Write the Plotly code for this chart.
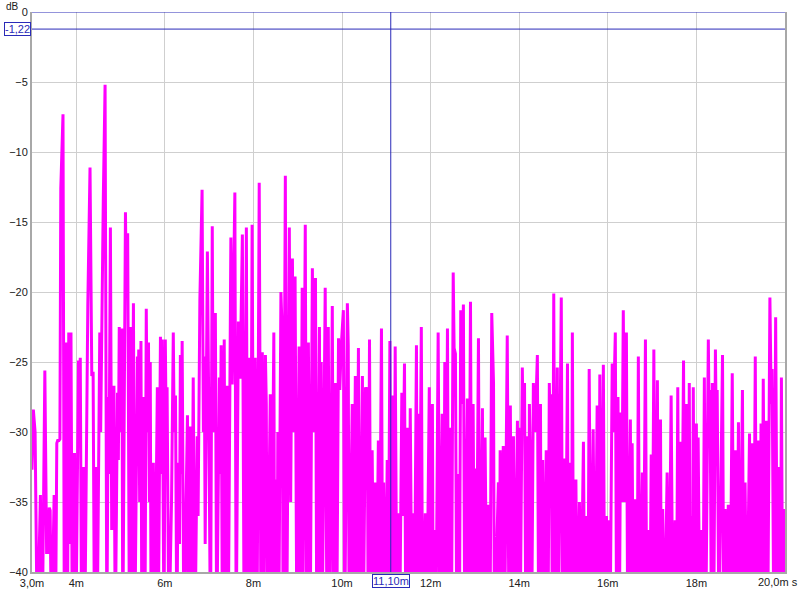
import plotly.graph_objects as go

# ---- data: impulse magnitude (dB) vs time (ms); vertices ----
t_a = [3.00, 3.03, 3.07, 3.12, 3.19, 3.23, 3.29, 3.33, 3.37, 3.39, 3.41, 3.44, 3.50, 3.53,
       3.56, 3.58, 3.61, 3.63, 3.65, 3.70, 3.73, 3.77, 3.80, 3.83, 3.85, 3.88, 3.91, 3.96, 3.99,
       4.05, 4.07, 4.09, 4.12, 4.16, 4.19, 4.26, 4.31, 4.35, 4.38, 4.41, 4.45, 4.47,
       4.53, 4.55, 4.61, 4.65, 4.69, 4.72, 4.74, 4.77, 4.80, 4.85, 4.88,
       4.93, 4.95, 4.97, 4.99, 5.03, 5.05, 5.11, 5.13, 5.16, 5.20]
db_a = [-32.7, -28.4, -30.0, -45, -34.5, -45, -25.6, -38.6, -38.6, -35.4, -35.6, -45, -34.5, -45,
        -30.8, -30.6, -30.6, -30.5, -12.6, -7.3, -45, -23.6, -45, -22.9, -38, -22.9, -45, -31.5, -45,
        -24.9, -27, -24.7, -45, -32.5, -45, -20.9, -11.1, -26, -25.7, -45, -32.5, -45,
        -22.9, -30, -13.3, -5.2, -45, -27.5, -33, -15.4, -37, -26.7, -45,
        -27.2, -32, -22.5, -30, -22.6, -45, -14.3, -20, -15.8, -45]

t_b = [5.22, 5.24, 5.29, 5.32, 5.38, 5.39, 5.41, 5.43, 5.46, 5.48, 5.51, 5.55, 5.58, 5.60, 5.63,
       5.65, 5.67, 5.69, 5.74, 5.77, 5.83, 5.85, 5.90, 5.92, 5.94, 5.98, 6.01, 6.03, 6.05, 6.09,
       6.15, 6.19, 6.21, 6.24, 6.27, 6.30, 6.33, 6.35, 6.37, 6.39, 6.43, 6.51, 6.53, 6.57, 6.60,
       6.64, 6.68, 6.73, 6.75, 6.79, 6.84, 6.87, 6.89, 6.91, 6.96, 6.99, 7.03, 7.07, 7.09, 7.14,
       7.17, 7.23, 7.25, 7.27, 7.30, 7.34, 7.36]
db_b = [-22.5, -45, -20.8, -45, -24.6, -30, -24.1, -35, -23.5, -45, -27.5, -45, -21.2, -30, -23.6,
        -35, -25, -45, -32.2, -45, -26.8, -45, -23.2, -33, -23.4, -45, -23.4, -30, -26.8, -45,
        -35, -22.9, -30, -27.4, -45, -32.2, -38, -24.5, -33, -23.5, -45, -28.8, -45, -29.6, -45,
        -26.1, -45, -30.3, -36, -20.6, -12.7, -30, -24.6, -38, -17.1, -28, -45, -15.3, -30, -21.5,
        -45, -26.1, -33, -23.8, -45, -23.4, -40]

t_c = [7.41, 7.43, 7.49, 7.52, 7.58, 7.61, 7.66, 7.70, 7.75, 7.79, 7.84, 7.87, 7.91, 7.93, 7.97,
       8.01, 8.04, 8.08, 8.13, 8.17, 8.20, 8.22, 8.27, 8.29, 8.31, 8.38, 8.40, 8.46, 8.48, 8.50,
       8.53, 8.55, 8.57, 8.62, 8.65, 8.67, 8.72, 8.75, 8.78, 8.81, 8.84, 8.88, 8.90, 8.94, 8.98,
       9.03, 9.06, 9.10, 9.12, 9.17, 9.20, 9.24, 9.26, 9.28, 9.33, 9.36, 9.40, 9.43, 9.49, 9.51,
       9.53, 9.55, 9.62, 9.66, 9.69, 9.72]
db_c = [-26.7, -45, -16.1, -26.6, -12.9, -45, -22.1, -26.2, -15.9, -45, -15.4, -45, -24.7, -45, -15.2,
        -45, -24.7, -45, -12.2, -45, -24.3, -45, -24.5, -28, -45, -27.3, -45, -22.9, -45, -33.4,
        -45, -30, -45, -20, -23, -45, -11.7, -45, -30, -15.4, -35, -17.6, -30, -18.9, -45,
        -23.9, -45, -19.7, -40, -15.2, -45, -23.6, -33, -45, -18.3, -30, -19, -45, -22.5, -45,
        -25, -45, -19.7, -45, -22.5, -45]

t_d = [9.78, 9.81, 9.85, 9.88, 9.92, 9.95, 9.98, 10.03, 10.06, 10.12, 10.14, 10.16, 10.23, 10.25,
       10.30, 10.33, 10.37, 10.39, 10.46, 10.48, 10.53, 10.55, 10.57, 10.59, 10.62, 10.65, 10.68,
       10.72, 10.75, 10.77, 10.82, 10.84, 10.89, 10.92, 10.94, 10.98, 11.02, 11.04, 11.08, 11.11,
       11.13, 11.17, 11.20, 11.24, 11.27, 11.30, 11.35, 11.37, 11.41, 11.44, 11.47, 11.51, 11.54,
       11.58, 11.61, 11.63, 11.68, 11.70, 11.72, 11.74, 11.79, 11.82, 11.88, 11.91, 11.97, 11.99,
       12.04, 12.06, 12.08, 12.12, 12.17, 12.21, 12.26, 12.29, 12.32, 12.34, 12.38, 12.41, 12.44,
       12.47, 12.51, 12.53, 12.56, 12.59, 12.62, 12.65, 12.68, 12.70, 12.74, 12.77, 12.83, 12.86,
       12.90, 12.93, 12.96, 12.99, 13.01, 13.03, 13.08, 13.11, 13.17, 13.19, 13.23, 13.27, 13.30,
       13.34, 13.38, 13.42, 13.44, 13.53, 13.55, 13.57, 13.61, 13.64, 13.67, 13.73, 13.77, 13.80,
       13.83, 13.87, 13.90, 13.96, 13.97, 13.99, 14.02, 14.07, 14.09, 14.12, 14.15, 14.18, 14.21,
       14.23]
db_d = [-21, -45, -26.5, -45, -23.3, -27, -24, -21.3, -45, -20.8, -23.8, -45, -28, -45,
        -26, -45, -24, -45, -26, -45, -26.8, -28, -26.8, -45, -23.4, -45, -31.3,
        -45, -33.6, -45, -30.6, -45, -22.6, -45, -33.6, -45, -32, -45, -23.5, -45,
        -27.4, -45, -23.9, -45, -35.8, -45, -27.2, -36, -25.1, -45, -29.7, -45, -28.3,
        -45, -35.8, -45, -23.8, -45, -28.7, -45, -22.5, -45, -35.8, -45, -26.8, -45,
        -28, -45, -37, -45, -22.9, -45, -28.7, -45, -25, -45, -22.6, -45, -29.7,
        -45, -18.6, -24, -24.4, -45, -33, -45, -21.3, -28, -20.9, -45, -27.6, -45,
        -20.7, -45, -28, -45, -32.6, -45, -23.3, -45, -28.3, -45, -30.4, -45, -35.2,
        -45, -21.5, -26.5, -45, -33.6, -45, -31.3, -45, -31, -45, -23.1, -45, -28.1,
        -45, -30.3, -45, -29.2, -45, -29.7, -45, -25.4, -30, -26.5, -45, -30.3, -45,
        -28]

t_e = [14.25, 14.28, 14.32, 14.36, 14.41, 14.44, 14.48, 14.50, 14.53, 14.57, 14.61, 14.65, 14.68,
       14.70, 14.72, 14.75, 14.78, 14.81, 14.86, 14.88, 14.95, 14.98, 15.02, 15.04, 15.09, 15.11,
       15.14, 15.18, 15.20, 15.23, 15.28, 15.31, 15.36, 15.39, 15.45, 15.48, 15.51, 15.55, 15.58,
       15.62, 15.67, 15.71, 15.76, 15.79, 15.82, 15.85, 15.90, 15.93, 15.97, 15.99, 16.01, 16.05,
       16.10, 16.12, 16.17, 16.20, 16.23, 16.26, 16.29, 16.32, 16.35, 16.38, 16.42, 16.45, 16.51,
       16.53, 16.55, 16.58, 16.62, 16.66, 16.69, 16.72, 16.78, 16.80, 16.85, 16.88, 16.91, 16.95,
       16.98, 17.00, 17.04, 17.07, 17.12, 17.14, 17.16]
db_e = [-32, -45, -26.5, -30, -24.5, -45, -28, -45, -32, -45, -31.3, -45, -26.5,
        -30, -27.3, -45, -20.1, -45, -25.4, -45, -20.4, -45, -31.9, -45, -25.1, -45,
        -32.2, -45, -22.9, -45, -33.4, -45, -35, -45, -30.7, -45, -36, -45, -25.5,
        -45, -29.8, -45, -28.1, -45, -25.9, -45, -25.2, -45, -36, -45, -36.3, -45,
        -25.1, -30, -22.9, -45, -27.5, -45, -28.6, -35, -21.3, -35, -22.9, -45, -29.1,
        -45, -30.8, -45, -34.8, -45, -24.6, -45, -32.9, -45, -23.4, -45, -37, -45,
        -31.6, -45, -24.1, -45, -26.3, -45, -35]

t_f = [17.19, 17.21, 17.24, 17.28, 17.34, 17.38, 17.43, 17.47, 17.52, 17.55, 17.58, 17.61, 17.64,
       17.66, 17.71, 17.74, 17.77, 17.81, 17.84, 17.86, 17.89, 17.91, 17.93, 17.96, 18.00, 18.02,
       18.04, 18.08, 18.11, 18.15, 18.18, 18.21, 18.27, 18.29, 18.31, 18.34, 18.36, 18.39, 18.43,
       18.45, 18.47, 18.51, 18.59, 18.62, 18.65, 18.69, 18.72, 18.76, 18.81, 18.85, 18.88, 18.91,
       18.95, 18.98, 19.04, 19.07, 19.10, 19.14, 19.20, 19.22, 19.25, 19.29, 19.33, 19.36, 19.40,
       19.42, 19.46, 19.48, 19.51, 19.55, 19.58, 19.61, 19.66, 19.69, 19.71, 19.75, 19.79, 19.83,
       19.87, 19.90, 19.92, 19.95, 19.99]
db_f = [-29.1, -45, -35.5, -45, -32.9, -45, -27.4, -45, -36.3, -45, -26.8, -45, -30.7,
        -45, -24.9, -45, -28, -45, -26.5, -45, -36, -45, -26.8, -45, -29.4, -45,
        -30.4, -45, -37, -45, -26.1, -45, -23.4, -30, -27, -45, -26.5, -45, -24.1,
        -30, -27, -45, -24.5, -45, -35.5, -45, -35.2, -45, -25.8, -45, -31.3, -45,
        -29.3, -45, -27, -45, -33.6, -45, -30.1, -45, -30.8, -45, -24.6, -45, -30.6,
        -45, -29.4, -45, -26.2, -45, -29.2, -45, -20.4, -28, -25.5, -45, -21.8, -45,
        -32.5, -45, -26.1, -45, -35.5]

x_tick_vals = [3, 4, 6, 8, 10, 12, 14, 16, 18]
x_tick_text = ["3,0m", "4m", "6m", "8m", "10m", "12m", "14m", "16m", "18m"]
x_end_label = "20,0m s"
y_tick_vals = [0, -5, -10, -15, -20, -25, -30, -35, -40]
cursor_t = 11.10
cursor_db = -1.22

t_ms = t_a + t_b + t_c + t_d + t_e + t_f
level_db = db_a + db_b + db_c + db_d + db_e + db_f

FONT = "Liberation Sans"
BLUE = "#2a2ab8"

fig = go.Figure()
fig.add_trace(go.Scatter(x=t_ms, y=level_db, mode="lines",
                         line=dict(color="#ff00ff", width=3), hoverinfo="skip"))

fig.update_layout(
    width=800, height=589,
    margin=dict(l=32, r=15, t=12, b=17, autoexpand=False),
    paper_bgcolor="white", plot_bgcolor="white",
    showlegend=False,
    font=dict(family=FONT, size=11, color="#202020"),
)
fig.update_xaxes(range=[3, 20.001], tickvals=x_tick_vals, ticktext=x_tick_text,
                 showgrid=True, gridcolor="#cfcfcf", gridwidth=1,
                 showline=True, linecolor="#a8a8a8", linewidth=2, automargin=False,
                 ticks="", zeroline=False, tickfont=dict(size=11))
fig.update_yaxes(range=[-40, 0], tickvals=y_tick_vals,
                 showgrid=True, gridcolor="#cfcfcf", gridwidth=1,
                 showline=True, linecolor="#a8a8a8", linewidth=2, mirror=True, automargin=False,
                 ticks="", zeroline=False, tickfont=dict(size=11))

# top line (0 dB) and cursor cross-hair
fig.add_shape(type="line", xref="paper", x0=0, x1=1, yref="y", y0=0, y1=0,
              line=dict(color=BLUE, width=1))
fig.add_shape(type="line", xref="paper", x0=0, x1=1, yref="y", y0=cursor_db, y1=cursor_db,
              line=dict(color=BLUE, width=1))
fig.add_shape(type="line", xref="x", x0=cursor_t, x1=cursor_t, yref="paper", y0=0, y1=1,
              line=dict(color=BLUE, width=1))

fig.add_annotation(xref="paper", x=0, xanchor="right", xshift=-1, yref="y", y=cursor_db,
                   text="-1,22", showarrow=False, font=dict(color=BLUE, size=11, family=FONT),
                   bgcolor="white", bordercolor=BLUE, borderwidth=1, borderpad=0)
fig.add_annotation(xref="x", x=cursor_t, yref="paper", y=0, yanchor="top", yshift=-2,
                   text="11,10m", showarrow=False, font=dict(color=BLUE, size=11, family=FONT),
                   bgcolor="white", bordercolor=BLUE, borderwidth=1, borderpad=0)
fig.add_annotation(xref="paper", x=1, xanchor="right", xshift=15, yref="paper", y=0,
                   yanchor="top", yshift=-2, text=x_end_label, showarrow=False,
                   font=dict(size=11, family=FONT, color="#202020"))
fig.add_annotation(xref="paper", x=0, xanchor="right", xshift=-11, yref="paper", y=1,
                   yanchor="top", yshift=13, text="dB", showarrow=False,
                   font=dict(size=10, family=FONT))

fig.write_html("out.html", config={"displayModeBar": False},
               post_script="document.body.style.margin='0';")
